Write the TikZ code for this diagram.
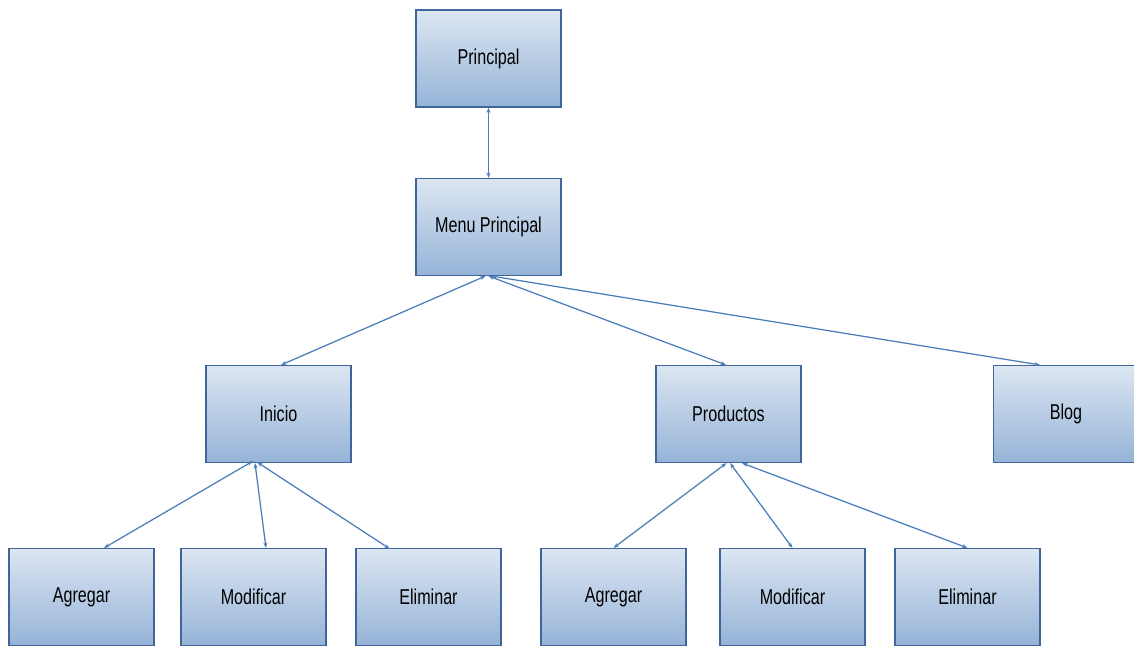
\documentclass[tikz,border=0pt]{standalone}
\usepackage{fontspec}
\setmainfont{Liberation Sans}[FakeStretch=0.75]
\usetikzlibrary{arrows.meta}
\definecolor{boxtop}{HTML}{DCE6F2}
\definecolor{boxbot}{HTML}{95B3D7}
\definecolor{boxedge}{HTML}{3F659A}
\definecolor{link}{HTML}{4A7EBB}
\tikzset{
  pagebox/.style={draw=boxedge, line width=1.1pt, top color=boxtop, bottom color=boxbot,
    minimum width=145pt, minimum height=97pt, inner sep=0pt,
    font=\fontsize{21.5}{24}\selectfont},
  link/.style={draw=link, line width=1.25pt,
    {Stealth[length=5.5pt,width=4pt]}-{Stealth[length=5.5pt,width=4pt]}}
}
\begin{document}
\begin{tikzpicture}[x=1pt,y=-1pt]
\useasboundingbox (0,0) rectangle (1134,646);
% pages
\node[pagebox] (principal) at (488.5,58.5) {Principal};
\node[pagebox] (menu) at (488.5,227) {Menu Principal};
\node[pagebox] (inicio) at (278.5,414) {Inicio};
\node[pagebox] (productos) at (728.5,414) {Productos};
\node[pagebox] (blog) at (1066,414) {Blog};
\node[pagebox] (agregarA) at (81.5,597) {Agregar};
\node[pagebox] (modificarA) at (253.5,597) {Modificar};
\node[pagebox] (eliminarA) at (428.5,597) {Eliminar};
\node[pagebox] (agregarB) at (613.5,597) {Agregar};
\node[pagebox] (modificarB) at (792.5,597) {Modificar};
\node[pagebox] (eliminarB) at (967.5,597) {Eliminar};
% links
\draw[link] (principal.south) -- (menu.north);
\draw[link] ([xshift=-3pt]menu.south) -- ([xshift=2.5pt]inicio.north);
\draw[link] (menu.south) -- ([xshift=-2.5pt]productos.north);
\draw[link] ([xshift=3pt]menu.south) -- ([xshift=-26pt]blog.north);
\draw[link] ([xshift=-25.5pt,yshift=2pt]inicio.south) -- ([xshift=22.5pt]agregarA.north);
\draw[link] ([xshift=-23.5pt]inicio.south) -- ([xshift=12.5pt]modificarA.north);
\draw[link] ([xshift=-21.5pt,yshift=1pt]inicio.south) -- ([xshift=-38.5pt,yshift=-1pt]eliminarA.north);
\draw[link] ([xshift=-2pt]productos.south) -- (agregarB.north);
\draw[link] ([xshift=1.5pt]productos.south) -- (modificarB.north);
\draw[link] ([xshift=13.5pt]productos.south) -- (eliminarB.north);
\end{tikzpicture}
\end{document}
